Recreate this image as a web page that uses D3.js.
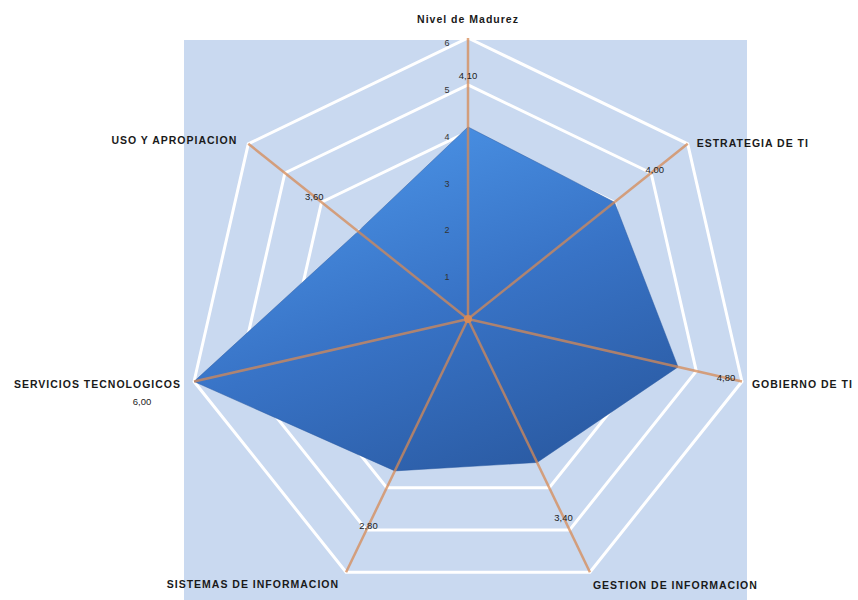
<!DOCTYPE html>
<html>
<head>
<meta charset="utf-8">
<script src="https://cdn.jsdelivr.net/npm/d3@7"></script>
<style>
  html, body { margin: 0; padding: 0; background: #fff; }
  svg { display: block; }
  text { font-family: "Liberation Sans", Arial, sans-serif; }
</style>
</head>
<body>
<svg id="chart"></svg>
<script>
// categorias del radar (la primera es el eje vertical)
const categorias = [
    "Nivel de Madurez",
    "ESTRATEGIA DE TI",
    "GOBIERNO DE TI",
    "GESTION DE INFORMACION",
    "SISTEMAS DE INFORMACION",
    "SERVICIOS TECNOLOGICOS",
    "USO Y APROPIACION"
];
const valores = [4.1, 4.0, 4.6, 3.4, 3.6, 6.0, 3.0];
// etiquetas de datos tal como aparecen
const etiquetas = ["4,10", "4,00", "4,80", "3,40", "2,80", "6,00", "3,60"];
// marcas del eje
const marcas = [1, 2, 3, 4, 5, 6];

const width = 858;
const height = 600;
const cx = 468, cy = 319, R = 281;

const svg = d3.select("#chart")
    .attr("width", width)
    .attr("height", height);

const n = categorias.length;
const angulo = d3.scaleLinear().domain([0, n]).range([0, 2 * Math.PI]);
const r = d3.scaleLinear().domain([0, 6]).range([0, R]);

const punto = (i, v) => [cx + r(v) * Math.sin(angulo(i)), cy - r(v) * Math.cos(angulo(i))];

// gradiente del area (coordenadas del grupo centrado)
const defs = svg.append("defs");
const grad = defs.append("linearGradient")
    .attr("id", "relleno")
    .attr("gradientUnits", "userSpaceOnUse")
    .attr("x1", -r(2)).attr("y1", -r(4.2))
    .attr("x2", r(1)).attr("y2", r(3.6));
grad.append("stop").attr("offset", "0%").attr("stop-color", "#4b93e6");
grad.append("stop").attr("offset", "50%").attr("stop-color", "#3873c6");
grad.append("stop").attr("offset", "100%").attr("stop-color", "#2a5aa2");

// fondo del area de trazado
svg.append("rect")
    .attr("x", 184).attr("y", 40)
    .attr("width", 563).attr("height", height - 40)
    .attr("fill", "#c9d9f0");

const g = svg.append("g").attr("transform", `translate(${cx},${cy})`);

// rejilla (heptagonos blancos)
const rejilla = d3.lineRadial()
    .angle((d, i) => angulo(i))
    .radius(d => r(d))
    .curve(d3.curveLinearClosed);

g.selectAll("path.grid")
    .data(marcas)
    .join("path")
    .attr("class", "grid")
    .attr("d", m => rejilla(d3.range(n).map(() => m)))
    .attr("fill", "none")
    .attr("stroke", "#ffffff")
    .attr("stroke-width", 3);

// area de la serie
g.append("path")
    .datum(valores)
    .attr("d", rejilla)
    .attr("fill", "url(#relleno)")
    .attr("stroke", "#2a5aa2")
    .attr("stroke-width", 1)
    .attr("stroke-opacity", 0.5);

// ejes radiales
g.selectAll("line.eje")
    .data(categorias)
    .join("line")
    .attr("class", "eje")
    .attr("x1", 0).attr("y1", 0)
    .attr("x2", (d, i) => r(6) * Math.sin(angulo(i)))
    .attr("y2", (d, i) => -r(6) * Math.cos(angulo(i)))
    .attr("stroke", "#d68a56")
    .attr("stroke-opacity", 0.75)
    .attr("stroke-width", 2.5);

g.append("circle")
    .attr("r", 4)
    .attr("fill", "#d68a56");

// marcas del eje vertical
g.selectAll("text.marca")
    .data(marcas)
    .join("text")
    .attr("class", "marca")
    .attr("x", -21)
    .attr("y", d => -r(d) + 5)
    .attr("dy", "0.35em")
    .attr("text-anchor", "middle")
    .style("font-size", "9px")
    .attr("fill", "#333")
    .text(d => d);

// nombres de categoria
const colocacion = [
    { anchor: "middle", dx: 0, dy: -19 },
    { anchor: "start", dx: 9, dy: 0 },
    { anchor: "start", dx: 10, dy: 3 },
    { anchor: "start", dx: 3, dy: 13 },
    { anchor: "end", dx: -7, dy: 12 },
    { anchor: "end", dx: -13, dy: 3 },
    { anchor: "end", dx: -11, dy: -3 }
];

svg.selectAll("text.cat")
    .data(categorias)
    .join("text")
    .attr("class", "cat")
    .attr("x", (d, i) => punto(i, 6)[0] + colocacion[i].dx)
    .attr("y", (d, i) => punto(i, 6)[1] + colocacion[i].dy)
    .attr("dy", "0.35em")
    .attr("text-anchor", (d, i) => colocacion[i].anchor)
    .style("font-size", "10.5px")
    .style("font-weight", "bold")
    .style("letter-spacing", (d, i) => i === 0 ? "1px" : "1px")
    .attr("fill", "#1a1a1a")
    .text(d => d);

// etiquetas de datos (posicion radial en unidades del eje)
const radioEtiqueta = [5.2, 5.1, 5.65, 4.7, 4.9, 6.0, 4.2];
const desplazar = [[0, 0], [0, 0], [0, 0], [0, 0], [0, 0], [-52, 20], [0, 0]];

svg.selectAll("text.dato")
    .data(etiquetas)
    .join("text")
    .attr("class", "dato")
    .attr("x", (d, i) => punto(i, radioEtiqueta[i])[0] + desplazar[i][0])
    .attr("y", (d, i) => punto(i, radioEtiqueta[i])[1] + desplazar[i][1])
    .attr("dy", "0.35em")
    .attr("text-anchor", "middle")
    .style("font-size", "9.5px")
    .attr("fill", "#222")
    .text(d => d);
</script>
</body>
</html>
